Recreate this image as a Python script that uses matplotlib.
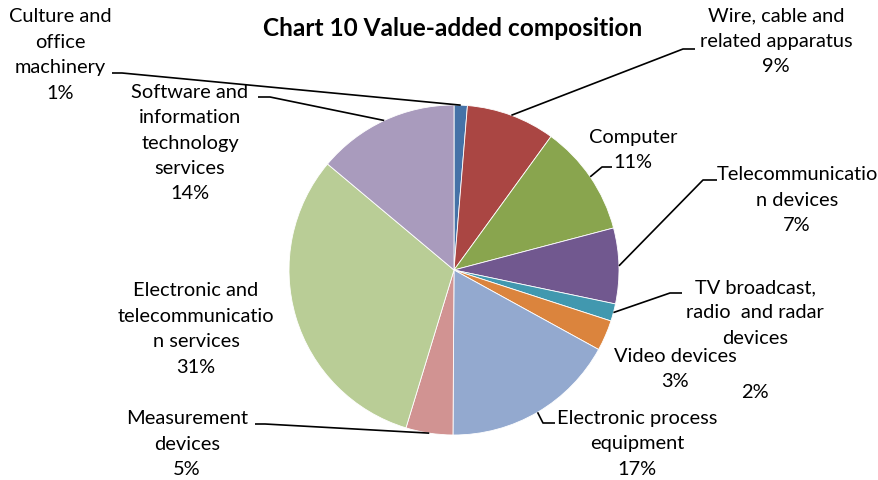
import numpy as np
import matplotlib.pyplot as plt

plt.rcParams['font.family'] = ['Lato', 'DejaVu Sans']

# slice data (clockwise from 12 o'clock)
kategorie = [
    "Culture and\noffice\nmachinery",
    "Wire, cable and\nrelated apparatus",
    "Computer",
    "Telecommunicatio\nn devices",
    "TV broadcast,\nradio  and radar\ndevices",
    "Video devices",
    "Electronic process\nequipment",
    "Measurement\ndevices",
    "Electronic and\ntelecommunicatio\nn services",
    "Software and\ninformation\ntechnology\nservices",
]
udzialy = [1.3, 8.7, 10.9, 7.4, 1.7, 3.0, 17.1, 4.6, 31.4, 13.9]
kolory = ["#4572A7", "#AA4643", "#89A54E", "#71588F", "#4198AF",
          "#DB843D", "#93A9CF", "#D19392", "#B9CD96", "#A99BBD"]

W, H = 879, 480
SRODEK = (454, 270)   # pixel coords of the pie centre (from top-left)
PROMIEN = 165
ROZMIAR = 14.4
ODSTEP = 1.6

# label block centres (x, y in px from top-left)
pozycje_etykiet = [(60, 55), (776, 41), (633, 150), (797, 200), (755, 313),
                   (675, 369), (637, 444), (187, 444), (196, 329), (190, 143)]
# leader lines: (elbow x, elbow y, end x) or None
linie = [(122, 73, 112), (683, 49, 695), (602, 167, 612), (703, 180, 717),
         (670, 293, 682), None, (543, 423, 555), (265, 424, 255), None,
         (270, 97, 258)]


def Y(y):
    return H - y


fig = plt.figure(figsize=(W / 100, H / 100), dpi=100)
ax = fig.add_axes([0, 0, 1, 1])

wedges, _ = ax.pie(udzialy, colors=kolory, startangle=90, counterclock=False,
                   center=(SRODEK[0], Y(SRODEK[1])), radius=PROMIEN,
                   wedgeprops=dict(edgecolor='white', linewidth=0.6))
ax.set_xlim(0, W)
ax.set_ylim(0, H)
ax.set_aspect('equal')
ax.axis('off')

suma = sum(udzialy)
for i, (w, nazwa) in enumerate(zip(wedges, kategorie)):
    proc = f"{round(udzialy[i] / suma * 100)}%"
    tx, ty = pozycje_etykiet[i]
    if i == 4:
        # the 2% of TV broadcast sits below the "Video devices" label
        ax.text(tx, Y(ty), nazwa, ha='center', va='center', fontsize=ROZMIAR,
                linespacing=ODSTEP)
        ax.text(tx, Y(393), proc, ha='center', va='center', fontsize=ROZMIAR)
    else:
        ax.text(tx, Y(ty), nazwa + "\n" + proc, ha='center', va='center',
                fontsize=ROZMIAR, linespacing=ODSTEP)

    if linie[i] is not None:
        kat = np.radians((w.theta1 + w.theta2) / 2)
        ax_x = SRODEK[0] + PROMIEN * np.cos(kat)
        ax_y = Y(SRODEK[1]) + PROMIEN * np.sin(kat)
        ex, ey, kx = linie[i]
        ax.plot([ax_x, ex, kx], [ax_y, Y(ey), Y(ey)], color='black', lw=1.2,
                solid_capstyle='butt')

ax.text(453, Y(29), "Chart 10 Value-added composition", ha='center',
        va='center', fontsize=17.6, fontweight='bold')

fig.savefig("out.png", dpi=100)
